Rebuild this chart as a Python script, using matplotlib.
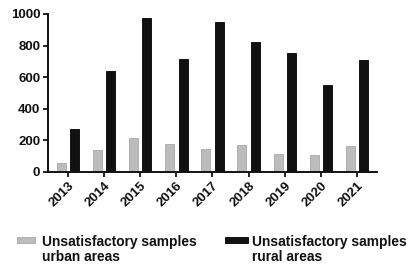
import matplotlib
matplotlib.use("Agg")
import matplotlib.pyplot as plt
import numpy as np
from matplotlib.patches import Rectangle

years = ["2013", "2014", "2015", "2016", "2017", "2018", "2019", "2020", "2021"]
urban = [57, 141, 213, 175, 147, 173, 114, 106, 166]
rural = [274, 641, 977, 713, 951, 825, 755, 549, 707]
labels = ["Unsatisfactory samples\nurban areas", "Unsatisfactory samples\nrural areas"]
colors = ["#bcbcbc", "#111111"]
edges = ["#a8a8a8", "#000000"]

plt.rcParams['font.family'] = ['Liberation Sans', 'DejaVu Sans']
plt.rcParams['font.weight'] = 'bold'

W, H = 410, 265
fig = plt.figure(figsize=(W / 100, H / 100), dpi=100)
ax = fig.add_axes([48 / W, 1 - 172 / H, (377 - 48) / W, (172 - 14) / H])

x = np.arange(len(years))
w = 0.25
off = 0.185
ax.bar(x - off, urban, w, color=colors[0], edgecolor=edges[0], linewidth=0.6)
ax.bar(x + off, rural, w, color=colors[1], edgecolor=edges[1], linewidth=0.6)

ax.set_xlim(-0.55, len(years) - 0.45)
ax.set_ylim(0, 1000)
ax.set_yticks([0, 200, 400, 600, 800, 1000])
ax.set_xticks(x)
ax.set_xticklabels(years, rotation=45, ha="right", rotation_mode="anchor")
for s in ["top", "right"]:
    ax.spines[s].set_visible(False)
for s in ["left", "bottom"]:
    ax.spines[s].set_linewidth(1.4)
    ax.spines[s].set_color("#111111")
ax.tick_params(axis="both", direction="out", length=3.5, width=1.3, labelsize=9.5, colors="#111111", pad=2)
for t in ax.get_xticklabels() + ax.get_yticklabels():
    t.set_fontweight("bold")

# legend drawn in figure pixel coordinates
leg = [(17, 35, 42), (225, 248, 252)]
for (px0, px1, tx), lab, c, e in zip(leg, labels, colors, edges):
    fig.patches.append(Rectangle((px0 / W, 1 - 243 / H), (px1 - px0) / W, 6 / H,
                                 transform=fig.transFigure, facecolor=c, edgecolor=e, linewidth=0.6))
    fig.text(tx / W, 1 - 249.5 / H, lab, ha="left", va="center", fontsize=9.9,
             fontweight="bold", color="#111111", linespacing=1.1)

fig.savefig("out.png", dpi=100)
